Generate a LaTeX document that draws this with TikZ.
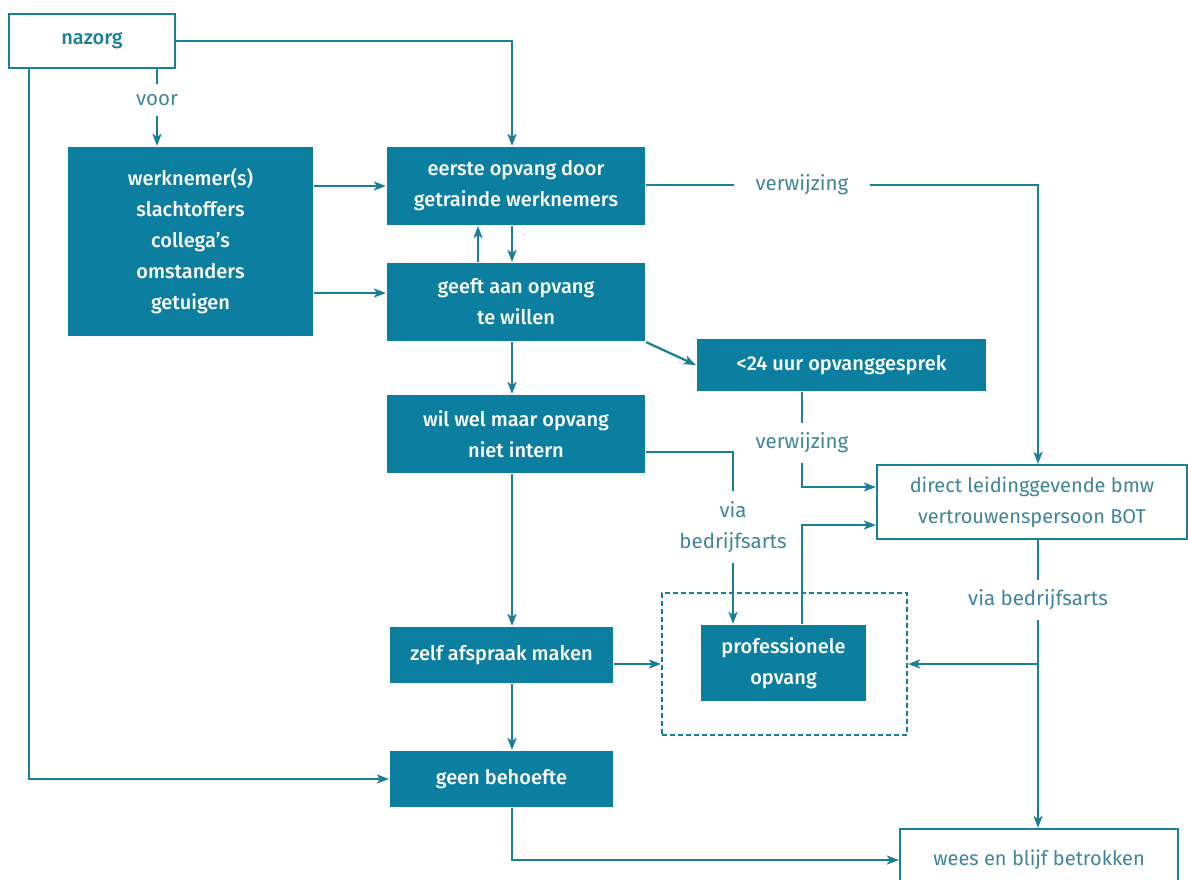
\documentclass[tikz,border=0pt]{standalone}
\usepackage{fontspec}
\setmainfont{Fira Sans}[BoldFont={Fira Sans Medium}]
\usetikzlibrary{arrows.meta}
\definecolor{petrol}{HTML}{0C7FA0}
\definecolor{lijn}{HTML}{1B7E98}
\definecolor{labtekst}{HTML}{3F8597}

\begin{document}
\begin{tikzpicture}[x=1pt,y=-1pt,->,>={Stealth[length=12pt,width=9pt,inset=3pt]},line width=2.2pt,color=lijn,
  every node/.style={font=\fontsize{20}{31}\selectfont,align=center,inner sep=0pt},
  box/.style={fill=petrol,text=white,font=\fontsize{20}{31}\selectfont\bfseries},
  wbox/.style={draw,fill=white,text=labtekst},
  lab/.style={text=labtekst,font=\fontsize{20.5}{31}\selectfont,inner xsep=21pt,inner ysep=9pt}]

  \useasboundingbox (0,0) rectangle (1188,879);
  \clip (0,0) rectangle (1188,879);

  % hulplijnen
  \coordinate (links) at (29,0);
  \coordinate (voorlijn) at (157,0);
  \coordinate (terug) at (478,0);
  \coordinate (midden) at (512,0);
  \coordinate (rechts) at (1038,0);

  \node[wbox,text=lijn,font=\fontsize{20}{31}\selectfont\bfseries,minimum width=166,minimum height=54] (nazorg) at (92,41) {nazorg};
  \node[box,minimum width=245,minimum height=189] (werk) at (190.5,241.5) {werknemer(s)\\slachtoffers\\collega’s\\omstanders\\getuigen};
  \node[box,minimum width=258,minimum height=78] (eerste) at (516,186) {eerste opvang door\\getrainde werknemers};
  \node[box,minimum width=258,minimum height=78] (geeft) at (516,302) {geeft aan opvang\\te willen};
  \node[box,minimum width=258,minimum height=78] (wil) at (516,434) {wil wel maar opvang\\niet intern};
  \node[box,minimum width=223,minimum height=56] (zelf) at (501.5,655) {zelf afspraak maken};
  \node[box,minimum width=223,minimum height=56] (geen) at (501.5,779) {geen behoefte};
  \node[box,minimum width=289,minimum height=52] (uur) at (841.5,365) {<24 uur opvanggesprek};
  \node[wbox,minimum width=310,minimum height=74] (direct) at (1032,502) {direct leidinggevende bmw\\vertrouwenspersoon BOT};
  \node[draw,dash pattern=on 5pt off 3pt,minimum width=245,minimum height=142] (kader) at (784.5,664) {};
  \node[box,minimum width=165,minimum height=76] (prof) at (783.5,663) {professionele\\opvang};
  \node[wbox,minimum width=278,minimum height=62] (wees) at (1039,860) {wees en blijf betrokken};

  % labels
  \node[lab] (voor) at (157,100) {voor};
  \node[lab] (verw1) at (802,185) {verwijzing};
  \node[lab] (verw2) at (802,443) {verwijzing};
  \node[lab] (via1) at (733,527) {via\\bedrijfsarts};
  \node[lab] (via2) at (1038,600) {via bedrijfsarts};

  % verbindingen
  \draw (nazorg) -| (eerste.north -| midden);
  \draw (nazorg.south -| voorlijn) -- (voor) -- (werk.north -| voorlijn);
  \draw (nazorg.south -| links) |- (geen);
  \draw (werk.east |- eerste) -- (eerste);
  \draw ([yshift=9pt]geeft.west -| werk.east) -- ([yshift=9pt]geeft.west);
  \draw (eerste.south -| midden) -- (geeft.north -| midden);
  \draw (geeft.north -| terug) -- (eerste.south -| terug);
  \draw (eerste.east |- verw1) -- (verw1) -| (direct.north -| rechts);
  \draw (geeft.south east) -- (uur.west);
  \draw (uur.south -| verw2) -- (verw2) |- ([yshift=15pt]direct.west);
  \draw (geeft.south -| midden) -- (wil.north -| midden);
  \draw ([yshift=-18pt]wil.east) -| (via1) -- (via1 |- prof.north);
  \draw (wil.south -| midden) -- (zelf.north -| midden);
  \draw (kader.west -| zelf.east) -- (kader.west);
  \draw (prof.north -| verw2) |- ([yshift=-23pt]direct.west);
  \draw (direct.south -| rechts) -- (via2) -- (wees.north -| rechts);
  \draw (via2 |- kader) -- (kader.east);
  \draw (zelf.south -| midden) -- (geen.north -| midden);
  \draw (geen.south -| midden) |- (wees);
\end{tikzpicture}
\end{document}
